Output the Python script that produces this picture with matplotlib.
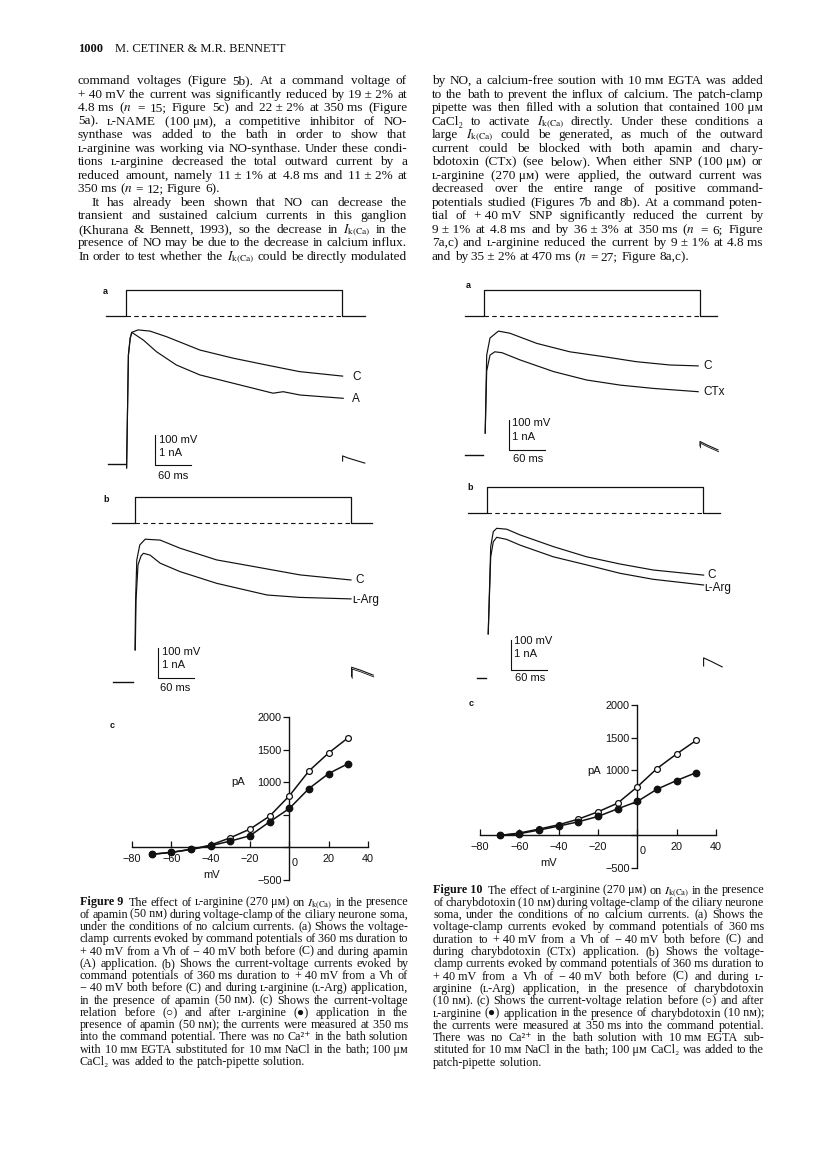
import matplotlib
matplotlib.use('Agg')
import matplotlib.pyplot as plt

plt.rcParams['mathtext.fontset'] = 'stix'
W, H = 816, 1155
SERIF = ['Liberation Serif', 'DejaVu Serif', 'DejaVu Sans']
SANS = ['Liberation Sans', 'DejaVu Sans']
INK = '#111111'
NB = '\u00a0'
IKCA = r'$I_{\mathrm{k(Ca)}}$'

# ---------------- data: voltage-clamp traces (t in ms from step onset, I in nA) ----------------
# Figure 9a : control (C) and apamin (A)
f9a_t_C = [1, 4, 7, 10, 20, 40, 68, 123, 178, 234, 289, 361]
f9a_I_C = [-0.13, 3.63, 4.2, 4.39, 4.47, 4.43, 4.24, 3.8, 3.53, 3.3, 3.08, 2.93]
f9a_t_A = [1, 4, 7, 9.5, 29, 51, 84, 123, 179, 245, 262, 290, 362]
f9a_I_A = [-0.13, 3.63, 4.19, 4.39, 4.13, 3.74, 3.3, 2.97, 2.69, 2.36, 2.41, 2.3, 2.19]
f9a_tail_t = [361, 361, 370, 398]
f9a_tail_I = [0.1, 0.27, 0.2, 0.03]

# Figure 9b : control (C) and L-arginine
f9b_t_C = [0, 1, 3, 8, 17, 42, 75, 136, 192, 275, 360]
f9b_I_C = [1.07, 2.73, 4.07, 4.57, 4.76, 4.73, 4.46, 4.07, 3.87, 3.57, 3.4]
f9b_t_L = [0.5, 1.7, 5, 10, 14, 25, 42, 75, 136, 220, 275, 360]
f9b_I_L = [1.07, 2.73, 3.9, 4.2, 4.29, 4.23, 3.96, 3.68, 3.29, 2.9, 2.82, 2.77]
f9b_tail_t = [361, 361, 375, 397]
f9b_tail_I = [0.18, 0.49, 0.4, 0.23]

# Figure 10a : control (C) and charybdotoxin (CTx)
f10a_t_C = [2, 4.5, 10, 24, 43, 88, 143, 199, 254, 310, 357]
f10a_I_C = [0.73, 3.33, 3.9, 4.13, 4.06, 3.72, 3.44, 3.28, 3.11, 3.0, 2.97]
f10a_t_X = [2, 4.5, 10, 18, 30, 60, 116, 171, 227, 282, 357]
f10a_I_X = [0.73, 2.8, 3.33, 3.44, 3.41, 3.17, 2.78, 2.5, 2.33, 2.22, 2.11]
f10a_tail_t = [360, 360, 372, 390]
f10a_tail_I = [0.3, 0.45, 0.33, 0.17]

# Figure 10b : control (C) and L-arginine
f10b_t = [2, 6.2, 10.5, 16.2, 32.8, 55, 110.5, 166, 221.7, 277, 361]
f10b_I_C = [1.47, 4.38, 4.88, 4.99, 4.96, 4.77, 4.38, 4.04, 3.8, 3.6, 3.43]
f10b_I_L = [1.47, 4.04, 4.54, 4.69, 4.62, 4.43, 4.04, 3.77, 3.49, 3.29, 3.1]
f10b_tail_t = [361, 361, 372, 392]
f10b_tail_I = [0.4, 0.67, 0.57, 0.37]

# command step (mV): holding -40, step to +40 for 360 ms
step_dur = 360
v_hold, v_cmd = -40, 40

# ---------------- data: current-voltage relations (mV, pA) ----------------
iv_mV = [-70, -60, -50, -40, -30, -20, -10, 0, 10, 20, 30]
f9c_ctrl = [-105, -75, -30, 36, 148, 281, 480, 791, 1173, 1449, 1684]
f9c_larg = [-107, -77, -31, 26, 97, 179, 393, 597, 903, 1133, 1286]
f10c_ctrl = [0, 36, 97, 163, 250, 362, 495, 745, 1026, 1250, 1459]
f10c_larg = [0, 26, 82, 143, 209, 291, 408, 520, 709, 842, 964]

# ---------------- text ----------------
left_col = [
    "command voltages (Figure 5b). At a command voltage of",
    f"+{NB}40{NB}mV the current was significantly reduced by 19{NB}±{NB}2% at",
    f"4.8{NB}ms ($n$ = 15; Figure 5c) and 22{NB}±{NB}2% at 350{NB}ms (Figure",
    f"5a). ʟ-NAME (100{NB}μᴍ), a competitive inhibitor of NO-",
    "synthase was added to the bath in order to show that",
    "ʟ-arginine was working via NO-synthase. Under these condi-",
    "tions ʟ-arginine decreased the total outward current by a",
    f"reduced amount, namely 11{NB}±{NB}1% at 4.8{NB}ms and 11{NB}±{NB}2% at",
    f"350{NB}ms ($n$ = 12; Figure 6).",
    "It has already been shown that NO can decrease the",
    "transient and sustained calcium currents in this ganglion",
    f"(Khurana & Bennett, 1993), so the decrease in {IKCA} in the",
    "presence of NO may be due to the decrease in calcium influx.",
    f"In order to test whether the {IKCA} could be directly modulated",
]
right_col = [
    f"by NO, a calcium-free soution with 10{NB}mᴍ EGTA was added",
    "to the bath to prevent the influx of calcium. The patch-clamp",
    f"pipette was then filled with a solution that contained 100{NB}μᴍ",
    f"CaCl₂ to activate {IKCA} directly. Under these conditions a",
    f"large {IKCA} could be generated, as much of the outward",
    "current could be blocked with both apamin and chary-",
    f"bdotoxin (CTx) (see below). When either SNP (100{NB}μᴍ) or",
    f"ʟ-arginine (270{NB}μᴍ) were applied, the outward current was",
    "decreased over the entire range of positive command-",
    "potentials studied (Figures 7b and 8b). At a command poten-",
    f"tial of +{NB}40{NB}mV SNP significantly reduced the current by",
    f"9{NB}±{NB}1% at 4.8{NB}ms and by 36{NB}±{NB}3% at 350{NB}ms ($n$ = 6; Figure",
    f"7a,c) and ʟ-arginine reduced the current by 9{NB}±{NB}1% at 4.8{NB}ms",
    f"and by 35{NB}±{NB}2% at 470{NB}ms ($n$ = 27; Figure 8a,c).",
]
cap9 = [
    f"*Figure{NB}9*  The effect of ʟ-arginine (270{NB}μᴍ) on {IKCA} in the presence",
    f"of apamin (50{NB}nᴍ) during voltage-clamp of the ciliary neurone soma,",
    "under the conditions of no calcium currents. (a) Shows the voltage-",
    f"clamp currents evoked by command potentials of 360{NB}ms duration to",
    f"+{NB}40{NB}mV from a Vh of \u2212{NB}40{NB}mV both before (C) and during apamin",
    "(A) application. (b) Shows the current-voltage currents evoked by",
    f"command potentials of 360{NB}ms duration to +{NB}40{NB}mV from a Vh of",
    f"\u2212{NB}40{NB}mV both before (C) and during ʟ-arginine (ʟ-Arg) application,",
    f"in the presence of apamin (50{NB}nᴍ). (c) Shows the current-voltage",
    "relation before (○) and after ʟ-arginine (●) application in the",
    f"presence of apamin (50{NB}nᴍ); the currents were measured at 350{NB}ms",
    "into the command potential. There was no Ca²⁺ in the bath solution",
    f"with 10{NB}mᴍ EGTA substituted for 10{NB}mᴍ NaCl in the bath; 100{NB}μᴍ",
    "CaCl₂ was added to the patch-pipette solution.",
]
cap10 = [
    f"*Figure{NB}10*  The effect of ʟ-arginine (270{NB}μᴍ) on {IKCA} in the presence",
    f"of charybdotoxin (10{NB}nᴍ) during voltage-clamp of the ciliary neurone",
    "soma, under the conditions of no calcium currents. (a) Shows the",
    f"voltage-clamp currents evoked by command potentials of 360{NB}ms",
    f"duration to +{NB}40{NB}mV from a Vh of \u2212{NB}40{NB}mV both before (C) and",
    "during charybdotoxin (CTx) application. (b) Shows the voltage-",
    f"clamp currents evoked by command potentials of 360{NB}ms duration to",
    f"+{NB}40{NB}mV from a Vh of \u2212{NB}40{NB}mV both before (C) and during ʟ-",
    "arginine (ʟ-Arg) application, in the presence of charybdotoxin",
    f"(10{NB}nᴍ). (c) Shows the current-voltage relation before (○) and after",
    f"ʟ-arginine (●) application in the presence of charybdotoxin (10{NB}nᴍ);",
    f"the currents were measured at 350{NB}ms into the command potential.",
    f"There was no Ca²⁺ in the bath solution with 10{NB}mᴍ EGTA sub-",
    f"stituted for 10{NB}mᴍ NaCl in the bath; 100{NB}μᴍ CaCl₂ was added to the",
    "patch-pipette solution.",
]

fig = plt.figure(figsize=(W / 100, H / 100), dpi=100)
fig.patch.set_facecolor('white')
renderer = fig.canvas.get_renderer()


def fx(x):
    return x / W


def fy(y):
    return 1 - y / H


def put_line(x0, x1, y, line, size, justify=True):
    # place words one by one so the line fills x0..x1 like the printed page
    arts = []
    for w in line.split(' '):
        weight = 'normal'
        if len(w) > 2 and w[0] == '*' and w[-1] == '*':
            w, weight = w[1:-1], 'bold'
        arts.append(fig.text(fx(x0), fy(y), w, fontsize=size, family=SERIF,
                             weight=weight, color=INK, va='baseline'))
    widths = [a.get_window_extent(renderer).width for a in arts]
    if justify and len(arts) > 1:
        gap = (x1 - x0 - sum(widths)) / (len(arts) - 1)
    else:
        gap = size * 100 / 72 * 0.25
    x = x0
    for a, w in zip(arts, widths):
        a.set_position((fx(x), fy(y)))
        x += w + gap


def put_block(lines, x0, x1, y0, dy, size, indent_rows=(), last_rows=()):
    for i, line in enumerate(lines):
        xs = x0 + (13 if i in indent_rows else 0)
        put_line(xs, x1, y0 + i * dy, line, size, justify=i not in last_rows)


# header
fig.text(fx(78), fy(52), '1000', fontsize=9.0, family=SERIF, weight='bold', color=INK, va='baseline')
fig.text(fx(115), fy(52), 'M. CETINER & M.R. BENNETT', fontsize=8.9, family=SERIF, color=INK, va='baseline')

put_block(left_col, 78, 407, 84, 13.53, 9.5, indent_rows=(9,), last_rows=(8,))
put_block(right_col, 432, 763, 84, 13.53, 9.5, last_rows=(13,))
put_block(cap9, 80, 408, 905.5, 12.26, 8.7, last_rows=(13,))
put_block(cap10, 433, 764, 893.5, 12.3, 8.7, last_rows=(14,))


# ---------------- trace panels ----------------
PX_MS = 0.6      # pixels per ms (60 ms bar = 36 px)
PX_NA = 30.0     # pixels per nA (1 nA bar = 30 px)
PX_MV = 0.32     # pixels per mV


def px_axes(xl, xr, yt, yb, t0_px, zero_px, px_x, px_y):
    ax = fig.add_axes([fx(xl), fy(yb), (xr - xl) / W, (yb - yt) / H])
    ax.set_xlim((xl - t0_px) / px_x, (xr - t0_px) / px_x)
    ax.set_ylim((zero_px - yb) / px_y, (zero_px - yt) / px_y)
    ax.axis('off')
    return ax


def voltage_panel(xl, xr, t0_px, base_px, t_start, t_end):
    ax = px_axes(xl, xr, base_px - 40, base_px + 8, t0_px, base_px - 40 * PX_MV, PX_MS, PX_MV)
    ax.plot([t_start, 0, 0, step_dur, step_dur, t_end],
            [v_hold, v_hold, v_cmd, v_cmd, v_hold, v_hold], color=INK, lw=0.9)
    ax.plot([0, step_dur], [v_hold, v_hold], color=INK, lw=0.8, ls=(0, (4, 3)))


def current_panel(xl, xr, yt, yb, t0_px, zero_px, traces, tail, hold, bar, dbl_tail):
    ax = px_axes(xl, xr, yt, yb, t0_px, zero_px, PX_MS, PX_NA)
    for t, i in traces:
        ax.plot(t, i, color=INK, lw=0.85)
    ax.plot(tail[0], tail[1], color=INK, lw=0.8)
    if dbl_tail:
        ax.plot([t + 1 for t in tail[0]], [i - 0.06 for i in tail[1]], color=INK, lw=0.6)
    ax.plot(hold, [0, 0], color=INK, lw=1.0)
    bt, bi = bar
    ax.plot([bt, bt, bt + 60], [bi + 1, bi, bi], color=INK, lw=0.8)
    return ax


def sans(x, y, s, size=8.0, **kw):
    fig.text(fx(x), fy(y), s, fontsize=size, family=SANS, color=INK, va='center', **kw)


# Figure 9a
voltage_panel(95, 380, 126, 316, -33, 398)
current_panel(95, 380, 320, 485, 126, 464,
              [(f9a_t_C, f9a_I_C), (f9a_t_A, f9a_I_A)],
              (f9a_tail_t, f9a_tail_I), [-30, -2], (48.3, -0.03), False)
sans(103, 291, 'a', 6.5, weight='bold')
sans(352, 377, 'C', 8.5)
sans(352, 399, 'A', 8.5)
sans(159, 440, '100 mV')
sans(159, 453, '1 nA')
sans(158, 476, '60 ms')

# Figure 9b
voltage_panel(100, 385, 135, 523, -38, 395)
current_panel(100, 385, 525, 700, 135, 682,
              [(f9b_t_C, f9b_I_C), (f9b_t_L, f9b_I_L)],
              (f9b_tail_t, f9b_tail_I), [-37, -3], (38.3, 0.13), True)
sans(103, 499, 'b', 6.5, weight='bold')
sans(355, 580, 'C', 8.5)
sans(352, 600, 'ʟ-Arg', 8.5)
sans(162, 652, '100 mV')
sans(162, 665, '1 nA')
sans(160, 688, '60 ms')

# Figure 10a
voltage_panel(455, 735, 484, 316, -32, 388)
current_panel(455, 735, 320, 470, 484, 455,
              [(f10a_t_C, f10a_I_C), (f10a_t_X, f10a_I_X)],
              (f10a_tail_t, f10a_tail_I), [-32, -2], (41.7, 0.17), True)
sans(466, 286, 'a', 6.5, weight='bold')
sans(703, 366, 'C', 8.5)
sans(703, 392, 'CTx', 8.5)
sans(512, 423, '100 mV')
sans(512, 437, '1 nA')
sans(513, 459, '60 ms')

# Figure 10b
voltage_panel(455, 735, 487, 513, -32, 388)
current_panel(455, 735, 520, 690, 487, 678,
              [(f10b_t, f10b_I_C), (f10b_t, f10b_I_L)],
              (f10b_tail_t, f10b_tail_I), [-17, -1], (40, 0.27), False)
sans(467, 487, 'b', 6.5, weight='bold')
sans(707, 575, 'C', 8.5)
sans(704, 588, 'ʟ-Arg', 8.5)
sans(514, 641, '100 mV')
sans(514, 654, '1 nA')
sans(515, 678, '60 ms')


# ---------------- current-voltage panels ----------------
def iv_panel(xl, xr, yt, yb, ctrl, larg):
    ax = fig.add_axes([fx(xl), fy(yb), (xr - xl) / W, (yb - yt) / H])
    ax.set_xlim(-80, 40)
    ax.set_ylim(-500, 2000)
    ax.patch.set_alpha(0)
    for s in ('top', 'right'):
        ax.spines[s].set_visible(False)
    ax.spines['left'].set_position(('data', 0))
    ax.spines['bottom'].set_position(('data', 0))
    for s in ('left', 'bottom'):
        ax.spines[s].set_linewidth(1.0)
        ax.spines[s].set_color(INK)
    ax.set_xticks([-80, -60, -40, -20, 0, 20, 40])
    ax.set_xticklabels(['\u221280', '\u221260', '\u221240', '\u221220', '', '20', '40'])
    ax.set_yticks([-500, 0, 500, 1000, 1500, 2000])
    ax.set_yticklabels(['\u2212500', '', '', '1000', '1500', '2000'])
    ax.tick_params(axis='x', direction='in', length=4, width=0.9, pad=5, labelsize=7.8, colors=INK)
    ax.tick_params(axis='y', direction='out', length=4, width=0.9, pad=1.5, labelsize=7.8, colors=INK)
    for lab in ax.get_xticklabels() + ax.get_yticklabels():
        lab.set_family(SANS)
    ax.annotate('0', (0, 0), xytext=(4, -11), textcoords='offset points', fontsize=7.8,
                family=SANS, color=INK, ha='center', va='center')
    ax.plot(iv_mV, ctrl, color=INK, lw=1.1, marker='o', ms=4.2, mfc='white', mec=INK, mew=0.9,
            clip_on=False, zorder=3)
    ax.plot(iv_mV, larg, color=INK, lw=1.1, marker='o', ms=4.6, mfc=INK, mec=INK,
            clip_on=False, zorder=4)
    return ax


iv_panel(132, 368, 717, 880, f9c_ctrl, f9c_larg)
sans(110, 726, 'c', 6.5, weight='bold')
sans(231, 782, 'pA', 8.0)
sans(203, 875, 'mV', 8.0)

iv_panel(480, 716, 705, 868, f10c_ctrl, f10c_larg)
sans(469, 703, 'c', 6.5, weight='bold')
sans(587, 771, 'pA', 8.0)
sans(540, 863, 'mV', 8.0)

fig.savefig('out.png', dpi=100, facecolor='white')
